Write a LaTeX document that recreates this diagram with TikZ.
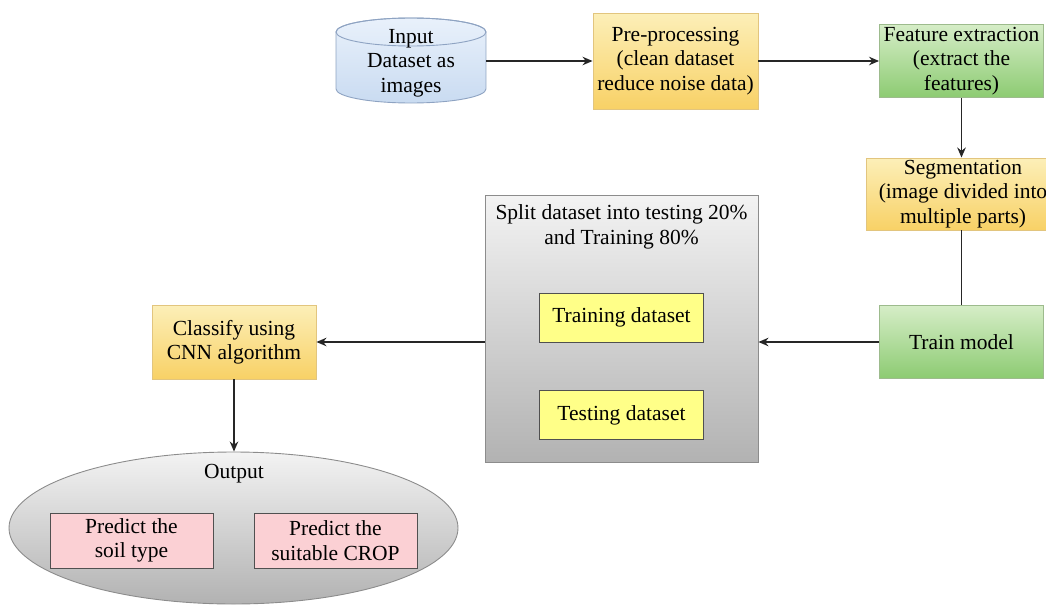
\documentclass[tikz,border=0pt]{standalone}
\usepackage{fontspec}
\newfontfamily\diagfont{LiberationSerif}[Extension=.ttf, UprightFont=*-Regular, BoldFont=*-Bold]
\usetikzlibrary{arrows.meta,shapes.geometric}

\definecolor{cylfillA}{HTML}{E9F1FB}
\definecolor{cylfillB}{HTML}{C9DBF1}
\definecolor{cylline}{HTML}{8EA3C2}
\definecolor{ambA}{HTML}{FCEFB8}
\definecolor{ambB}{HTML}{F8D166}
\definecolor{ambline}{HTML}{E2C57E}
\definecolor{grnA}{HTML}{D6EDC7}
\definecolor{grnB}{HTML}{8CCB72}
\definecolor{grnline}{HTML}{9DBB8D}
\definecolor{gryA}{HTML}{F3F3F3}
\definecolor{gryB}{HTML}{B2B2B2}
\definecolor{gryline}{HTML}{8C8C8C}
\definecolor{lemon}{HTML}{FFFF88}
\definecolor{pinkish}{HTML}{FBD0D4}
\definecolor{darkedge}{HTML}{505050}

\tikzset{
  txt/.style={font=\diagfont\fontsize{21.5}{24.5}\selectfont, align=center, text=black},
  box/.style={txt, rectangle, inner sep=0pt, line width=0.9pt},
  amberbox/.style={box, draw=ambline, top color=ambA, bottom color=ambB},
  greenbox/.style={box, draw=grnline, top color=grnA, bottom color=grnB},
  greybox/.style={box, draw=gryline, top color=gryA, bottom color=gryB},
  lemonbox/.style={box, draw=darkedge, fill=lemon},
  pinkbox/.style={box, draw=darkedge, fill=pinkish},
  flow/.style={-{Stealth[length=10pt,width=8.5pt]}, line width=1.8pt, draw=black!85},
  plainflow/.style={line width=1.8pt, draw=black!85}
}

\begin{document}
\begin{tikzpicture}[x=1pt,y=1pt]
  \useasboundingbox (0,0) rectangle (1046,-605);

  % input dataset drum
  \path[top color=cylfillA, bottom color=cylfillB, draw=cylline, line width=0.9pt]
    (336,-32) -- (336,-89) arc[start angle=180, end angle=360, x radius=75, y radius=14]
    -- (486,-32) arc[start angle=0, end angle=180, x radius=75, y radius=14] -- cycle;
  \draw[cylline, line width=0.9pt] (411,-32) ellipse[x radius=75, y radius=14];
  \node[rectangle, minimum width=150pt, minimum height=85pt, inner sep=0pt] (inputcyl) at (411,-61) {};
  \node[txt] (inputtxt) at (411,-63) {Input\\Dataset as\\images};

  % processing chain along the top and right
  \node[amberbox, minimum width=165pt, minimum height=96pt] (pre) at (675.5,-61)
    {Pre-processing\\(clean dataset\\reduce noise data)};
  \node[greenbox, minimum width=164pt, minimum height=73pt] (feat) at (961.5,-61)
    {Feature extraction\\(extract the\\features)};
  \node[amberbox, minimum width=194pt, minimum height=72pt] (seg) at (963,-194)
    {Segmentation\\(image divided into\\multiple parts)};
  \node[greenbox, minimum width=164pt, minimum height=73pt] (train) at (961.5,-342)
    {Train model};

  % split container
  \node[greybox, minimum width=273pt, minimum height=267pt] (split) at (621.5,-328.5) {};
  \node[txt] (splittitle) at (621.5,-227) {Split dataset into testing 20\%\\and Training 80\%};
  \node[lemonbox, minimum width=164pt, minimum height=49pt] (trainds) at (621.5,-317.5)
    {Training dataset};
  \node[lemonbox, minimum width=164pt, minimum height=49pt] (testds) at (621.5,-415)
    {Testing dataset};

  % classifier
  \node[amberbox, minimum width=164pt, minimum height=74pt] (classify) at (234,-342)
    {Classify using\\CNN algorithm};

  % output ellipse
  \node[ellipse, draw=gryline, line width=0.9pt, top color=gryA, bottom color=gryB,
        minimum width=449pt, minimum height=152pt, inner sep=0pt] (output) at (233.5,-528) {};
  \node[txt] (outlabel) at (234,-474) {Output};
  \node[pinkbox, minimum width=163pt, minimum height=55pt] (soil) at (131.5,-540.5)
    {Predict the\\soil type};
  \node[pinkbox, minimum width=163pt, minimum height=55pt] (crop) at (335.5,-540.5)
    {Predict the\\suitable CROP};

  % connectors
  \draw[flow] (inputcyl.east) -- (pre.west |- inputcyl.east);
  \draw[flow] (pre.east) -- (feat.west |- pre.east);
  \draw[flow] (feat.south) -- (seg.north -| feat.south);
  \draw[plainflow] (seg.south -| train.north) -- (train.north);
  \draw[flow] (train.west) -- (split.east |- train.west);
  \draw[flow] (classify.east -| split.west) -- (classify.east);
  \draw[flow] (classify.south) -- (output.north -| classify.south);
\end{tikzpicture}
\end{document}
